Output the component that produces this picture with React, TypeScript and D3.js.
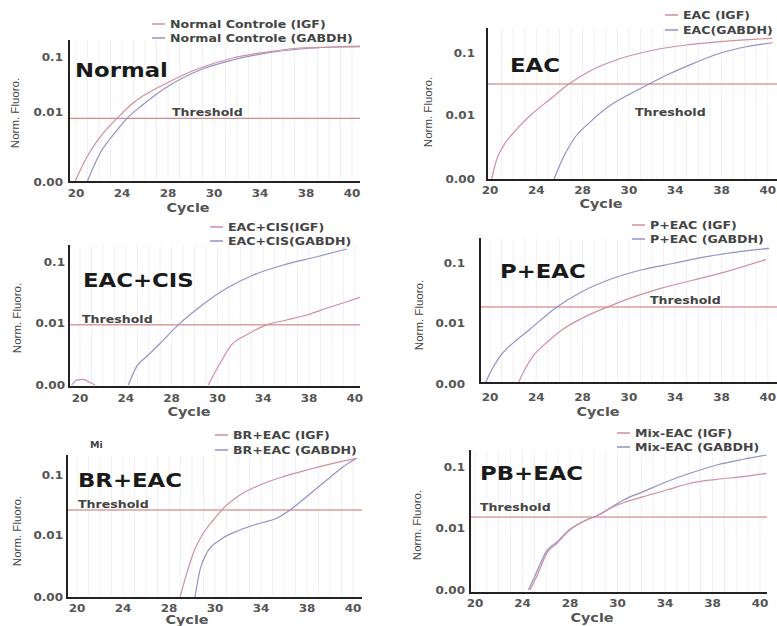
import React from 'react';
import * as d3 from 'd3';

// axis ticks (the cycle axis is drawn with evenly spaced, uneven labels)
const cycleTicks = [20, 24, 28, 30, 34, 38, 40];
const fluoroTicks = [0, 0.01, 0.1];
const fluoroTickLabels = ['0.00', '0.01', '0.1'];

const panelTitles = ['Normal', 'EAC', 'EAC+CIS', 'P+EAC', 'BR+EAC', 'PB+EAC'];
const legendIGF = ['Normal Controle (IGF)', 'EAC (IGF)', 'EAC+CIS(IGF)', 'P+EAC (IGF)', 'BR+EAC (IGF)', 'Mix-EAC (IGF)'];
const legendGABDH = ['Normal Controle (GABDH)', 'EAC(GABDH)', 'EAC+CIS(GABDH)', 'P+EAC (GABDH)', 'BR+EAC (GABDH)', 'Mix-EAC (GABDH)'];
const thresholdValues = [0.0091, 0.055, 0.0097, 0.034, 0.0475, 0.0262];

// [cycle, norm. fluoro.]
const normalIGF = [[19.9, 0], [20.96, 0.0036], [22.09, 0.0064], [23.57, 0.0091], [24.96, 0.0247], [27.91, 0.0575], [29.39, 0.082], [31.65, 0.0984], [34.61, 0.1082], [37.48, 0.1147], [39.17, 0.1164], [40.35, 0.118]];
const normalGABDH = [[20.96, 0], [22.09, 0.0041], [23.57, 0.0074], [24.43, 0.0091], [25.57, 0.0182], [27.91, 0.0509], [29.39, 0.0787], [31.65, 0.0951], [34.61, 0.1065], [37.48, 0.1131], [39.17, 0.1164], [40.35, 0.1168]];

const eacIGF = [[20.14, 0], [20.57, 0.003], [21.13, 0.0051], [22.27, 0.0077], [23.69, 0.0125], [25.11, 0.0318], [26.81, 0.055], [28.26, 0.0729], [29.67, 0.0923], [32.19, 0.1044], [35.02, 0.1116], [37.86, 0.1164], [39.35, 0.1199], [40.2, 0.1213]];
const eacGABDH = [[25.53, 0], [26.24, 0.003], [27.38, 0.0066], [28.26, 0.0087], [29.11, 0.022], [29.96, 0.039], [31.76, 0.055], [33.6, 0.0705], [35.59, 0.085], [37.86, 0.0996], [39.06, 0.1091], [40.2, 0.1149]];

const cisIGF = [[29.6, 0], [30.23, 0.0035], [31.25, 0.0065], [32.56, 0.0081], [34.3, 0.0097], [36.05, 0.0144], [37.8, 0.0218], [38.77, 0.0317], [39.65, 0.0414], [40.23, 0.0479]];
const cisGABDH = [[24.22, 0], [24.95, 0.003], [25.82, 0.0046], [26.99, 0.0067], [28.29, 0.0097], [29.24, 0.034], [30.81, 0.0612], [33.14, 0.0808], [35.76, 0.0956], [38.34, 0.1078], [39.65, 0.1192]];
const cisBlip = [[19.28, 0], [19.71, 0.0008], [20.29, 0.0009], [20.87, 0.0004], [21.31, 0]];

const pIGF = [[22.41, 0], [22.84, 0.0018], [23.69, 0.0045], [24.83, 0.0067], [26.24, 0.0089], [27.94, 0.017], [29.11, 0.0345], [30.49, 0.0495], [32.75, 0.062], [35.59, 0.0745], [38.21, 0.087], [39.91, 0.105]];
const pGABDH = [[19.57, 0], [20, 0.0018], [20.85, 0.0045], [21.98, 0.0067], [23.4, 0.0089], [25.81, 0.0345], [27.94, 0.057], [29.11, 0.0745], [31.05, 0.0895], [33.89, 0.0996], [36.72, 0.1095], [38.78, 0.117], [40.06, 0.122]];

const brIGF = [[28.48, 0], [28.77, 0.0038], [29.06, 0.0071], [29.49, 0.0126], [29.93, 0.0325], [30.72, 0.05], [32.17, 0.07], [33.91, 0.085], [35.94, 0.0975], [37.97, 0.1075], [39.14, 0.1175], [40.16, 0.125]];
const brGABDH = [[29.13, 0], [29.35, 0.0044], [29.64, 0.0071], [30.43, 0.0092], [32.17, 0.0175], [33.91, 0.0276], [35.36, 0.035], [36.52, 0.0475], [37.97, 0.0675], [38.86, 0.0925], [39.58, 0.1125], [40.16, 0.125]];

const pbIGF = [[24.63, 0], [25.2, 0.0022], [26.04, 0.0059], [26.88, 0.0075], [28, 0.0097], [28.7, 0.0218], [29.12, 0.0277], [29.68, 0.039], [30.49, 0.0473], [32.17, 0.0562], [34.14, 0.066], [36.11, 0.076], [38.18, 0.0818], [39.3, 0.0857], [40.28, 0.0907]];
const pbGABDH = [[24.5, 0], [25.1, 0.0025], [26.0, 0.0062], [26.88, 0.0077], [28, 0.0098], [28.7, 0.022], [29.12, 0.0278], [29.68, 0.039], [30.49, 0.0513], [32.17, 0.0636], [34.14, 0.0783], [36.11, 0.0907], [38.18, 0.103], [39.3, 0.1114], [40.28, 0.1177]];

const igfSeries = [normalIGF, eacIGF, cisIGF, pIGF, brIGF, pbIGF];
const gabdhSeries = [normalGABDH, eacGABDH, cisGABDH, pGABDH, brGABDH, pbGABDH];

const IGF_COLOR = '#d0909b';
const GABDH_COLOR = '#9292c8';
const THRESHOLD_COLOR = '#c87070';
const FONT = 'DejaVu Sans, Verdana, sans-serif';

// panel frames in page pixels
const layouts = [
  { yAxisX: 69, yTop: 40, xAxisY: 182, xRight: 360, tickX0: 76, step: 46, yPix: [182, 112, 57], yTickRight: 63, xTickBase: 197, cycle: [188, 212], yLabel: [15, 113], title: [75, 77], legend: [170, 28, 42], thr: [172, 116] },
  { yAxisX: 487, yTop: 28, xAxisY: 180, xRight: 777, tickX0: 490, step: 46.3, yPix: [179, 115, 53], yTickRight: 475, xTickBase: 194, cycle: [601, 208], yLabel: [428, 112], title: [510, 72], legend: [683, 19, 34], thr: [635, 116] },
  { yAxisX: 69, yTop: 245, xAxisY: 387, xRight: 360, tickX0: 80, step: 45.8, yPix: [385, 323, 262], yTickRight: 65, xTickBase: 402, cycle: [189, 416], yLabel: [17, 318], title: [83, 287], legend: [228, 231, 245], thr: [82, 323] },
  { yAxisX: 480, yTop: 238, xAxisY: 383, xRight: 777, tickX0: 490, step: 46.3, yPix: [384, 323, 263], yTickRight: 465, xTickBase: 401, cycle: [598, 416], yLabel: [419, 315], title: [500, 278], legend: [650, 229, 243], thr: [650, 304] },
  { yAxisX: 67, yTop: 455, xAxisY: 598, xRight: 362, tickX0: 77, step: 46, yPix: [597, 535, 475], yTickRight: 63, xTickBase: 612, cycle: [187, 624], yLabel: [17, 531], title: [78, 487], legend: [233, 439, 454], thr: [78, 508] },
  { yAxisX: 470, yTop: 450, xAxisY: 593, xRight: 767, tickX0: 475, step: 47.5, yPix: [590, 528, 467], yTickRight: 465, xTickBase: 607, cycle: [592, 622], yLabel: [417, 525], title: [480, 480], legend: [635, 437, 451], thr: [480, 511] },
];

const Wide = ({ x, y, size, anchor = 'start', weight = 'bold', fill = '#333', children }: any) => (
  <text
    transform={`translate(${x},${y}) scale(1.2,1)`}
    textAnchor={anchor}
    fontSize={size}
    fontWeight={weight}
    fontFamily={FONT}
    fill={fill}
  >
    {children}
  </text>
);

const Panel = ({ i }: { i: number }) => {
  const L = layouts[i];
  const x = d3.scaleLinear().domain(cycleTicks).range(cycleTicks.map((_, k) => L.tickX0 + k * L.step));
  const y = d3.scaleLinear().domain(fluoroTicks).range(L.yPix);
  const line = d3.line<number[]>().x(d => x(d[0])).y(d => y(d[1])).curve(d3.curveMonotoneX);

  // faint vertical grid, quarter steps between labels
  const idx = d3.scaleLinear().domain([0, 6]).range([L.tickX0, L.tickX0 + 6 * L.step]);
  const grid = d3.range(0, 6.01, 0.25).map(idx).filter(g => g > L.yAxisX + 3 && g < L.xRight);

  const thrY = y(thresholdValues[i]);
  const [lx, l1, l2] = L.legend;

  return (
    <g>
      {grid.map((g, k) => (
        <line key={k} x1={g} x2={g} y1={L.yTop} y2={L.xAxisY} stroke="#f1f1f1" strokeWidth={1} />
      ))}
      <line x1={L.yAxisX} x2={L.xRight} y1={thrY} y2={thrY} stroke={THRESHOLD_COLOR} strokeWidth={1} />

      <path d={line(gabdhSeries[i]) || ''} fill="none" stroke={GABDH_COLOR} strokeWidth={1.2} />
      <path d={line(igfSeries[i]) || ''} fill="none" stroke={IGF_COLOR} strokeWidth={1.2} />
      {i === 2 && <path d={line(cisBlip) || ''} fill="none" stroke={IGF_COLOR} strokeWidth={1.2} />}

      <line x1={L.yAxisX} x2={L.yAxisX} y1={L.yTop} y2={L.xAxisY} stroke="#222" strokeWidth={2} />
      <line x1={L.yAxisX - 1} x2={L.xRight} y1={L.xAxisY} y2={L.xAxisY} stroke="#222" strokeWidth={2} />

      {fluoroTicks.map((v, k) => (
        <Wide key={k} x={L.yTickRight} y={y(v) + 3.5} size={10} anchor="end" fill="#555">
          {fluoroTickLabels[k]}
        </Wide>
      ))}
      {cycleTicks.map(c => (
        <Wide key={c} x={x(c)} y={L.xTickBase} size={10} anchor="middle" fill="#555">
          {c}
        </Wide>
      ))}
      <Wide x={L.cycle[0]} y={L.cycle[1]} size={12} anchor="middle" fill="#555">Cycle</Wide>
      <text
        transform={`translate(${L.yLabel[0]},${L.yLabel[1]}) rotate(-90)`}
        textAnchor="middle"
        dy="0.35em"
        fontSize={11.5}
        fontFamily="Liberation Sans Narrow, Liberation Sans, Arial, sans-serif"
        fill="#444"
      >
        Norm. Fluoro.
      </text>

      <Wide x={L.title[0]} y={L.title[1]} size={19} fill="#1a1a1a">{panelTitles[i]}</Wide>
      <Wide x={L.thr[0]} y={L.thr[1]} size={10.5} fill="#444">Threshold</Wide>

      <line x1={lx - 18} x2={lx - 5} y1={l1 - 4} y2={l1 - 4} stroke={IGF_COLOR} strokeWidth={1.5} />
      <Wide x={lx} y={l1} size={10.5} fill="#444">{legendIGF[i]}</Wide>
      <line x1={lx - 18} x2={lx - 5} y1={l2 - 4} y2={l2 - 4} stroke={GABDH_COLOR} strokeWidth={1.5} />
      <Wide x={lx} y={l2} size={10.5} fill="#444">{legendGABDH[i]}</Wide>

      {i === 4 && <Wide x={90} y={448} size={8} fill="#444">Mi</Wide>}
    </g>
  );
};

export default function App() {
  return (
    <svg
      width={777}
      height={626}
      style={{ position: 'absolute', left: 0, top: 0, background: '#fff' }}
    >
      {layouts.map((_, i) => (
        <Panel key={i} i={i} />
      ))}
    </svg>
  );
}
